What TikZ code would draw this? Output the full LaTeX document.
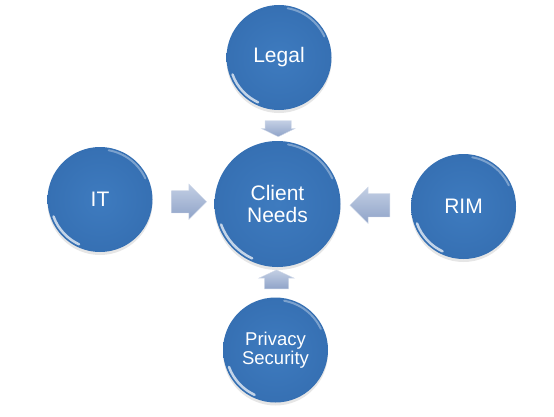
\documentclass[tikz,border=0pt]{standalone}
\usepackage{fontspec}
\setmainfont{Liberation Sans}
\usetikzlibrary{shapes.arrows,shadows,calc}

\definecolor{ballblue}{HTML}{3E7BBF}
\definecolor{balledge}{HTML}{3670B3}
\definecolor{arrowtop}{HTML}{C3CFE4}
\definecolor{arrowbot}{HTML}{8FA3C8}

\begin{document}
\begin{tikzpicture}[x=1pt,y=1pt,
  ball/.style={circle, draw=none, inner sep=0pt, align=center,
    inner color=ballblue, outer color=balledge,
    text=white, font=\fontsize{21}{22}\selectfont,
    drop shadow={shadow xshift=0pt, shadow yshift=-3pt, opacity=0.2}},
  arrowbox/.style={single arrow, draw=white!60!arrowbot,
    top color=arrowtop, bottom color=arrowbot},
  rimlight/.style={white, opacity=0.35, line width=2pt, line cap=round}]

  % --- PLOCHA ---
  \useasboundingbox (0,0) rectangle (554,416);

  % --- KRUHY ---
  \node[ball, minimum size=126pt] (needs) at (277.5,212) {Client\\Needs};
  \node[ball, minimum size=105pt] (legal) at (279,358.5) {Legal};
  \node[ball, minimum size=105pt] (it) at (100,216.5) {IT};
  \node[ball, minimum size=105pt] (rim) at (463.5,209.5) {RIM};
  \node[ball, minimum size=105pt, font=\fontsize{18.5}{18.5}\selectfont]
    (privacy) at (275.5,66) {Privacy\\Security};

  % lesk na okraji kruhu
  \foreach \n/\r in {needs/63, legal/52.5, it/52.5, rim/52.5, privacy/52.5}{
    \begin{scope}
      \clip (\n) circle[radius={\r*1pt}];
      \draw[rimlight] (\n) ++(25:{(\r-2.5)*1pt})
        arc[start angle=25, end angle=80, radius={(\r-2.5)*1pt}];
      \draw[rimlight, opacity=0.7, line width=2.5pt] (\n) ++(200:{(\r-3)*1pt})
        arc[start angle=200, end angle=245, radius={(\r-3)*1pt}];
    \end{scope}
  }

  % --- SIPKY ---
  % svisle sipky: sirku driku dava inner xsep
  \node[arrowbox, shape border rotate=270, minimum height=16pt,
    inner xsep=13pt, inner ysep=0pt, single arrow tip angle=128,
    single arrow head extend=3.5pt]
    (arLegal) at ($(legal.south)!0.5!(needs.north)$) {};
  \node[arrowbox, shape border rotate=0, minimum height=35pt,
    inner xsep=0pt, inner ysep=11pt, single arrow head extend=6.5pt]
    (arIt) at ($(it.east)!0.5!(needs.west)$) {};
  \node[arrowbox, shape border rotate=180, minimum height=40pt,
    inner xsep=0pt, inner ysep=11.5pt, single arrow head extend=6.5pt]
    (arRim) at ($(rim.west)!0.5!(needs.east)$) {};
  \node[arrowbox, shape border rotate=90, minimum height=19pt,
    inner xsep=12pt, inner ysep=0pt, single arrow tip angle=130,
    single arrow head extend=5.5pt]
    (arPrivacy) at ($(privacy.north)!0.5!(needs.south)$) {};

\end{tikzpicture}
\end{document}
